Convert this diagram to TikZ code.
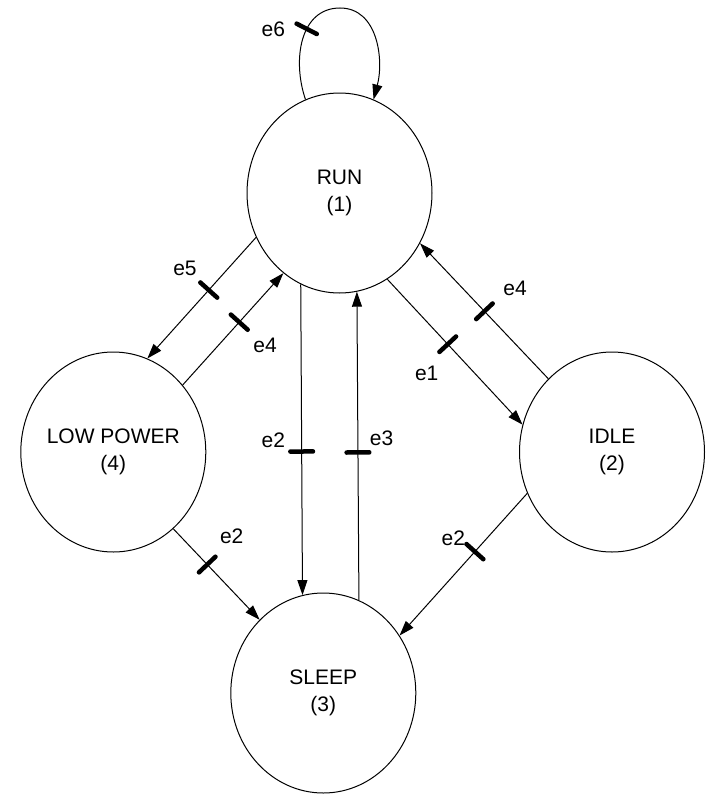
\documentclass[tikz,border=0pt]{standalone}
\usepackage{fontspec}
\setmainfont{Liberation Sans}
\usetikzlibrary{shapes.geometric,arrows.meta}
\begin{document}
\begin{tikzpicture}[x=1pt,y=-1pt,
  state/.style={ellipse, draw, line width=1pt, minimum width=185pt, minimum height=200pt, inner sep=0pt},
  stxt/.style={font=\fontsize{21}{27}\selectfont, align=center, inner sep=0pt},
  lbl/.style={font=\fontsize{21}{25}\selectfont, inner sep=0pt},
  conn/.style={line width=1pt, -{Triangle[length=15pt,width=10pt]}},
  bar/.style={fill=black, sloped, rounded corners=2pt, minimum width=4.5pt, minimum height=27pt, inner sep=0pt, draw=none},
]
\useasboundingbox (0,0) rectangle (707,795);

% states
\node[state] (run) at (339.5,193) {};
\node[stxt] (runt) at (run) {RUN\\(1)};
\node[state] (lp) at (113.3,452) {};
\node[stxt] (lpt) at (lp) {LOW POWER\\(4)};
\node[state] (idle) at (612,452) {};
\node[stxt] (idlet) at (idle) {IDLE\\(2)};
\node[state] (sleep) at (323.3,693) {};
\node[stxt] (sleept) at (sleep) {SLEEP\\(3)};

% connectors
\coordinate (looptop) at (340,8);
\draw[conn] (run.110.4) .. controls (292,60) and (300,8) .. (looptop) node[bar,pos=0.6]{}
  .. controls (378,8) and (384,60) .. (run.70.7);
\draw[conn] (run.208.7) -- node[bar,pos=0.435]{} (lp.70.6);
\draw[conn] (lp.44.4) -- node[bar,pos=0.562]{} (run.235);
\draw[conn] (run.247.5) -- node[bar,pos=0.538]{} (sleep.102.5);
\draw[conn] (sleep.69.8) -- node[bar,pos=0.479]{} (run.280.4);
\draw[conn] (run.299.5) -- node[bar,pos=0.447]{} (idle.163.4);
\draw[conn] (idle.131.5) -- node[bar,pos=0.498]{} (run.328.5);
\draw[conn] (lp.308.2) -- node[bar,pos=0.393]{} (sleep.131.7);
\draw[conn] (idle.206.3) -- node[bar,pos=0.41]{} (sleep.37.9);

% labels
\node[lbl] (l6) at (273.3,29.3) {e6};
\node[lbl] (l5) at (185,268.3) {e5};
\node[lbl] (l4a) at (265,345) {e4};
\node[lbl] (l4b) at (515,288.3) {e4};
\node[lbl] (l1) at (426.7,373.3) {e1};
\node[lbl] (l2a) at (273.3,440) {e2};
\node[lbl] (l3) at (381.5,438.3) {e3};
\node[lbl] (l2b) at (231.7,536.7) {e2};
\node[lbl] (l2c) at (453.3,538.3) {e2};
\end{tikzpicture}
\end{document}
